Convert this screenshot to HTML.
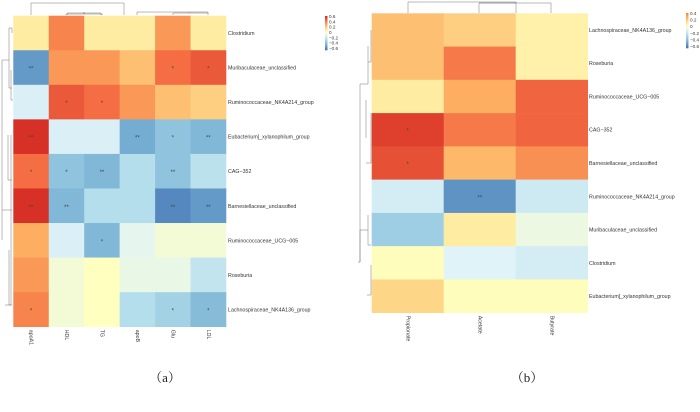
<!DOCTYPE html>
<html><head><meta charset="utf-8">
<style>
body{margin:0;background:#fff;}
svg{display:block;font-family:"Liberation Sans",sans-serif;}
</style></head>
<body>
<svg id="chart" width="700" height="412"></svg>
<script>
// ---- Panel (a) data ----
const aRows = ["Clostridium","Muribaculaceae_unclassified","Ruminococcaceae_NK4A214_group","Eubacterium]_xylanophilum_group","CAG−352","Barnesiellaceae_unclassified","Ruminococcaceae_UCG−005","Roseburia","Lachnospiraceae_NK4A136_group"];
const aCols = ["apoA1","HDL","TG","apoB","Glu","LDL"];
const aVals = [
 [0.10,0.40,0.10,0.10,0.35,0.10],
 [-0.50,0.35,0.35,0.25,0.45,0.50],
 [-0.10,0.50,0.45,0.35,0.25,0.20],
 [0.60,-0.10,-0.10,-0.45,-0.35,-0.40],
 [0.45,-0.35,-0.40,-0.22,-0.35,-0.20],
 [0.60,-0.40,-0.22,-0.22,-0.55,-0.50],
 [0.30,-0.10,-0.40,-0.06,-0.02,-0.02],
 [0.35,-0.02,0.02,-0.05,-0.05,-0.18],
 [0.40,-0.02,0.02,-0.22,-0.28,-0.38]];
const aStars = [
 ["","","","","",""],
 ["**","","","","*","*"],
 ["","*","*","","",""],
 ["**","","","**","*","**"],
 ["*","*","**","","**",""],
 ["**","**","","","**","**"],
 ["","","*","","",""],
 ["","","","","",""],
 ["*","","","","*","*"]];
// ---- Panel (b) data ----
const bRows = ["Lachnospiraceae_NK4A136_group","Roseburia","Ruminococcaceae_UCG−005","CAG−352","Barnesiellaceae_unclassified","Ruminococcaceae_NK4A214_group","Muribaculaceae_unclassified","Clostridium","Eubacterium]_xylanophilum_group"];
const bCols = ["Propionate","Acetate","Butyrate"];
const bVals = [
 [0.25,0.20,0.08],
 [0.25,0.42,0.08],
 [0.10,0.30,0.47],
 [0.56,0.42,0.47],
 [0.52,0.27,0.37],
 [-0.12,-0.52,-0.14],
 [-0.30,0.10,-0.04],
 [0.03,-0.08,-0.12],
 [0.18,0.03,0.03]];
const bStars = [["","",""],["","",""],["","",""],["*","",""],["*","",""],["","**",""],["","",""],["","",""],["","",""]];
const aLegend = ["0.6","0.4","0.2","0","−0.2","−0.4","−0.6"];
const bLegend = ["0.4","0.2","0","−0.2","−0.4","−0.6"];

const stops=[[-0.6,"#4575b4"],[-0.45,"#74add1"],[-0.25,"#abd9e9"],[-0.08,"#e0f3f8"],[0.02,"#ffffbf"],[0.15,"#fee090"],[0.3,"#fdae61"],[0.45,"#f46d43"],[0.6,"#d73027"]];
function hex(c){return [1,3,5].map(i=>parseInt(c.substr(i,2),16));}
function color(v){
  v=Math.max(-0.6,Math.min(0.6,v));
  for(let i=0;i<stops.length-1;i++){
    const [v0,c0]=stops[i],[v1,c1]=stops[i+1];
    if(v<=v1){const t=(v-v0)/(v1-v0);const a=hex(c0),b=hex(c1);
      return "rgb("+a.map((x,k)=>Math.round(x+(b[k]-x)*t)).join(",")+")";}
  }
  return stops[stops.length-1][1];
}
const svg=document.getElementById("chart");
const NS="http://www.w3.org/2000/svg";
function mk(tag,attrs,parent){const e=document.createElementNS(NS,tag);for(const k in attrs)e.setAttribute(k,attrs[k]);(parent||svg).appendChild(e);return e;}

function panel(id,rows,cols,vals,stars,x0,y0,w,h,labX){
  const g=mk("g",{});
  
  
  const cw=w/cols.length, rh=h/rows.length;
  const xs=j=>x0+j*cw, ys=i=>y0+i*rh;
  rows.forEach((r,i)=>{
    cols.forEach((c,j)=>{
      const rc=mk("rect",{x:xs(j),y:ys(i),width:cw+0.3,height:rh+0.3,fill:color(vals[i][j])},g);
      
      
      if(stars[i][j]){
        const t=mk("text",{x:xs(j)+cw/2,y:ys(i)+rh/2+3,"font-size":6,"text-anchor":"middle",fill:"#444"},g);
        t.textContent=stars[i][j];
        
        
      }
    });
    const t=mk("text",{x:labX,y:ys(i)+rh/2+2,"font-size":5.3,fill:"#333"},g);
    t.textContent=r;
    
    
  });
  cols.forEach((c,j)=>{
    const cx=xs(j)+cw/2, cy=y0+h+3;
    const t=mk("text",{x:cx,y:cy,"font-size":5.3,fill:"#333",transform:`rotate(90 ${cx} ${cy})`,"dominant-baseline":"middle"},g);
    t.textContent=c;
    
    
  });
}
panel("heatmap-a",aRows,aCols,aVals,aStars,13.3,15.7,212.7,311,228);
panel("heatmap-b",bRows,bCols,bVals,bStars,371.7,13.3,216,299.4,589);

function legend(id,labels,x,y,h,top){
  const g=mk("g",{});
  
  
  const n=30;
  for(let k=0;k<n;k++){
    const v=top-(top+0.6)*k/(n-1);
    mk("rect",{x:x,y:y+k*h/n,width:2.5,height:h/n+0.3,fill:color(v)},g);
  }
  labels.forEach((l,k)=>{
    const t=mk("text",{x:x+4,y:y+2+k*(h-2)/(labels.length-1),"font-size":4.6,fill:"#333"},g);
    t.textContent=l;
  });
}
legend("legend-a",aLegend,325,16,34,0.6);
legend("legend-b",bLegend,686,13,35,0.4);

// dendrograms (decorative)
const st={stroke:"#777","stroke-width":0.5,fill:"none"};
function path(d,name){const p=mk("path",Object.assign({d:d},st));}
path("M31,15 V3 H124 V15 M67,15 V14 H102 V15 M84,14 V12 M84,12 V14 M66,14 V15 M102,14 V15 M67,15 V13 H101 V15 M137,15 V12 H208 V15 M173,15 V13 H208 M189,13 V12","dendro-a-top");
path("M12,33 V28 H9 M9,28 V60 H2 V210 H12 M9,60 V88 H12 M11,70 V100 H13 M2,210 V240 M11,135 V305 H5 M8,135 V180 H12 M9,250 V305 H12","dendro-a-left");
path("M408,13 V2 H516 V13 M516,3 H479 V13 M479,3 H551 V13 M516,2 V3","dendro-b-top");
path("M371,30 V62 H368 M368,46 V84 H360 M360,84 V262 H358 M371,113 V163 H366 M366,138 V100 M360,262 V230 H368 M368,215 V245 H371 M371,265 V295 H367","dendro-b-left");

const ca=mk("text",{x:165,y:382,"font-size":13,"text-anchor":"middle",fill:"#222","font-family":"Liberation Serif, Noto Serif CJK SC, serif"});
ca.textContent="（a）";


const cb=mk("text",{x:527,y:382,"font-size":13,"text-anchor":"middle",fill:"#222","font-family":"Liberation Serif, Noto Serif CJK SC, serif"});
cb.textContent="（b）";


</script>
</body></html>
